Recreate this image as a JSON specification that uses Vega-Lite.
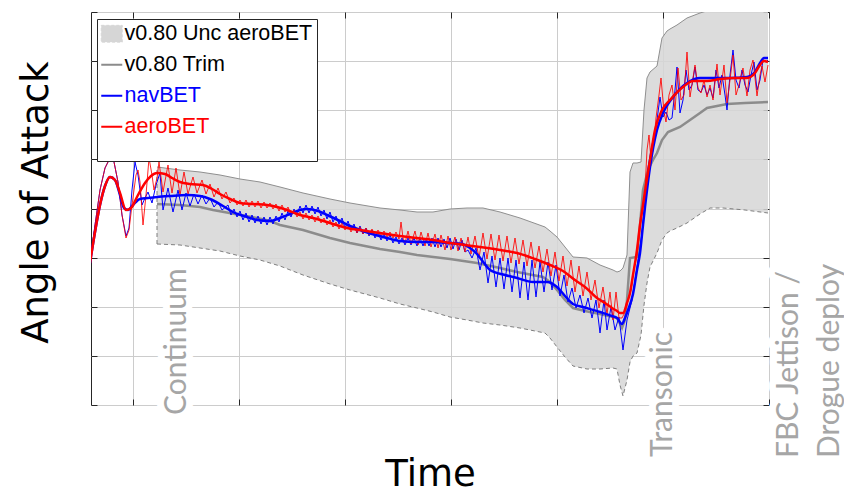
{
"$schema":"https://vega.github.io/schema/vega-lite/v6.json",
"width":678,"height":393,
"autosize":{"type":"none"},
"padding":{"left":91,"top":12,"right":75,"bottom":89},
"background":"white",
"config":{
"view":{"stroke":"#262626","strokeWidth":1},
"axis":{"domain":false,"labels":false,"tickSize":-6,"tickColor":"#262626","tickWidth":1,"gridColor":"#cccccc","gridWidth":1,"titleFont":"DejaVu Sans","titleFontSize":37,"titleFontWeight":"normal","titleColor":"#000000"},
"legend":{"orient":"none","legendX":6,"legendY":7,"fillColor":"white","strokeColor":"#262626","padding":4,"rowPadding":8,"labelFont":"Liberation Sans","labelFontSize":21.5,"labelOffset":2,"labelLimit":400,"symbolSize":441,"symbolType":"stroke","titleFontSize":14,"titlePadding":6}
},
"datasets":{
"band":[{"t":157,"hi":238,"lo":161},{"t":180,"hi":235,"lo":160},{"t":200,"hi":233,"lo":157},{"t":220,"hi":230,"lo":154},{"t":240,"hi":226,"lo":149},{"t":260,"hi":223,"lo":145},{"t":280,"hi":218,"lo":139},{"t":303,"hi":212,"lo":130},{"t":330,"hi":206,"lo":121},{"t":350,"hi":202,"lo":115},{"t":380,"hi":197,"lo":107},{"t":400,"hi":195,"lo":101},{"t":417,"hi":193,"lo":97},{"t":433,"hi":193,"lo":93},{"t":450,"hi":196,"lo":88},{"t":467,"hi":197,"lo":85},{"t":483,"hi":197,"lo":82},{"t":500,"hi":193,"lo":80},{"t":520,"hi":187,"lo":77},{"t":545,"hi":178,"lo":72},{"t":550,"hi":174,"lo":67},{"t":557,"hi":168,"lo":58},{"t":565,"hi":158,"lo":48},{"t":573,"hi":148,"lo":39},{"t":587,"hi":147,"lo":36},{"t":600,"hi":140,"lo":36},{"t":613,"hi":135,"lo":37},{"t":617,"hi":133,"lo":36},{"t":620,"hi":134,"lo":20},{"t":623,"hi":137,"lo":9},{"t":627,"hi":150,"lo":25},{"t":630,"hi":233,"lo":43},{"t":633,"hi":242,"lo":49},{"t":637,"hi":242,"lo":52},{"t":641,"hi":243,"lo":70},{"t":644,"hi":295,"lo":100},{"t":647,"hi":327,"lo":122},{"t":650,"hi":333,"lo":138},{"t":657,"hi":339,"lo":152},{"t":662,"hi":367,"lo":165},{"t":667,"hi":374,"lo":172},{"t":670,"hi":376,"lo":174},{"t":677,"hi":380,"lo":177},{"t":687,"hi":387,"lo":182},{"t":700,"hi":392,"lo":191},{"t":710,"hi":395,"lo":197},{"t":723,"hi":397,"lo":197},{"t":745,"hi":399,"lo":195},{"t":768,"hi":400,"lo":192}],
"trim":[{"t":157,"a":201},{"t":180,"a":200},{"t":200,"a":198},{"t":213,"a":195},{"t":235,"a":191},{"t":257,"a":187},{"t":270,"a":184},{"t":280,"a":180},{"t":303,"a":175},{"t":330,"a":167},{"t":350,"a":162},{"t":380,"a":156},{"t":400,"a":153},{"t":417,"a":150},{"t":450,"a":146},{"t":477,"a":142},{"t":500,"a":137},{"t":517,"a":133},{"t":543,"a":128},{"t":550,"a":123},{"t":557,"a":115},{"t":565,"a":105},{"t":573,"a":97},{"t":585,"a":94},{"t":600,"a":91},{"t":617,"a":87},{"t":622,"a":77},{"t":625,"a":85},{"t":627,"a":105},{"t":630,"a":147},{"t":637,"a":148},{"t":640,"a":180},{"t":643,"a":215},{"t":648,"a":235},{"t":653,"a":245},{"t":657,"a":252},{"t":662,"a":265},{"t":668,"a":273},{"t":680,"a":278},{"t":690,"a":285},{"t":700,"a":292},{"t":707,"a":297},{"t":717,"a":299},{"t":727,"a":301},{"t":745,"a":302},{"t":768,"a":303}],
"redThick":[{"t":90,"a":142},{"t":95,"a":173},{"t":100,"a":200},{"t":105,"a":219},{"t":110,"a":228},{"t":115,"a":225},{"t":120,"a":212},{"t":126,"a":195},{"t":131,"a":197},{"t":138,"a":210},{"t":145,"a":222},{"t":151,"a":229},{"t":157,"a":232},{"t":165,"a":231},{"t":172,"a":227},{"t":180,"a":223},{"t":190,"a":221},{"t":203,"a":220},{"t":212,"a":216},{"t":220,"a":211},{"t":230,"a":206},{"t":240,"a":202},{"t":253,"a":201},{"t":267,"a":200},{"t":277,"a":198},{"t":287,"a":195},{"t":300,"a":190},{"t":313,"a":187},{"t":330,"a":182},{"t":347,"a":177},{"t":360,"a":175},{"t":380,"a":172},{"t":400,"a":169},{"t":417,"a":167},{"t":433,"a":165},{"t":450,"a":162},{"t":465,"a":160},{"t":480,"a":158},{"t":500,"a":155},{"t":517,"a":152},{"t":535,"a":146},{"t":550,"a":140},{"t":563,"a":134},{"t":575,"a":125},{"t":585,"a":118},{"t":597,"a":107},{"t":605,"a":102},{"t":612,"a":97},{"t":617,"a":94},{"t":620,"a":92},{"t":623,"a":92},{"t":627,"a":102},{"t":630,"a":112},{"t":633,"a":130},{"t":637,"a":155},{"t":640,"a":180},{"t":643,"a":200},{"t":646,"a":220},{"t":650,"a":245},{"t":655,"a":275},{"t":662,"a":295},{"t":670,"a":305},{"t":683,"a":318},{"t":693,"a":324},{"t":707,"a":324},{"t":720,"a":326},{"t":735,"a":327},{"t":747,"a":327},{"t":755,"a":332},{"t":760,"a":340},{"t":764,"a":344},{"t":768,"a":343}],
"blueThick":[{"t":90,"a":142},{"t":95,"a":173},{"t":100,"a":200},{"t":105,"a":219},{"t":110,"a":228},{"t":115,"a":225},{"t":120,"a":210},{"t":124,"a":197},{"t":128,"a":195},{"t":133,"a":200},{"t":140,"a":206},{"t":148,"a":207},{"t":157,"a":208},{"t":170,"a":209},{"t":187,"a":210},{"t":200,"a":209},{"t":210,"a":206},{"t":223,"a":199},{"t":233,"a":193},{"t":247,"a":188},{"t":257,"a":185},{"t":270,"a":184},{"t":280,"a":187},{"t":290,"a":191},{"t":300,"a":195},{"t":307,"a":196},{"t":318,"a":194},{"t":327,"a":190},{"t":340,"a":184},{"t":350,"a":179},{"t":360,"a":175},{"t":372,"a":171},{"t":383,"a":168},{"t":400,"a":164},{"t":417,"a":163},{"t":433,"a":163},{"t":450,"a":162},{"t":462,"a":161},{"t":470,"a":157},{"t":477,"a":151},{"t":484,"a":142},{"t":490,"a":135},{"t":505,"a":130},{"t":517,"a":127},{"t":533,"a":123},{"t":547,"a":123},{"t":557,"a":118},{"t":565,"a":109},{"t":573,"a":101},{"t":583,"a":98},{"t":600,"a":93},{"t":612,"a":89},{"t":617,"a":87},{"t":622,"a":81},{"t":625,"a":87},{"t":628,"a":95},{"t":633,"a":111},{"t":637,"a":135},{"t":640,"a":152},{"t":643,"a":180},{"t":645,"a":198},{"t":650,"a":238},{"t":657,"a":275},{"t":663,"a":292},{"t":673,"a":308},{"t":687,"a":322},{"t":700,"a":327},{"t":713,"a":327},{"t":730,"a":327},{"t":747,"a":328},{"t":755,"a":333},{"t":760,"a":342},{"t":764,"a":347},{"t":768,"a":347}],
"redThin":[{"t":90,"a":142},{"t":95,"a":180},{"t":100,"a":215},{"t":105,"a":237},{"t":110,"a":247},{"t":114,"a":243},{"t":118,"a":223},{"t":122,"a":190},{"t":126,"a":167},{"t":129,"a":175},{"t":132,"a":200},{"t":136,"a":230},{"t":138,"a":235},{"t":140,"a":223},{"t":143,"a":180},{"t":146,"a":210},{"t":149,"a":247},{"t":152,"a":230},{"t":154,"a":215},{"t":157,"a":227},{"t":159,"a":243},{"t":163,"a":213},{"t":168,"a":240},{"t":172,"a":212},{"t":176,"a":237},{"t":180,"a":210},{"t":184,"a":233},{"t":188,"a":211},{"t":193,"a":228},{"t":197,"a":212},{"t":202,"a":225},{"t":206,"a":211},{"t":210,"a":221},{"t":214,"a":208},{"t":218,"a":217},{"t":222,"a":206},{"t":226,"a":213},{"t":230,"a":202},{"t":234,"a":207},{"t":237,"a":200},{"t":240,"a":205},{"t":243,"a":199},{"t":246,"a":205},{"t":249,"a":198},{"t":252,"a":204},{"t":255,"a":198},{"t":258,"a":204},{"t":261,"a":197},{"t":264,"a":203},{"t":267,"a":197},{"t":270,"a":202},{"t":273,"a":196},{"t":276,"a":201},{"t":279,"a":194},{"t":282,"a":200},{"t":285,"a":193},{"t":288,"a":198},{"t":291,"a":190},{"t":294,"a":195},{"t":297,"a":188},{"t":300,"a":193},{"t":303,"a":186},{"t":306,"a":192},{"t":309,"a":185},{"t":312,"a":190},{"t":315,"a":183},{"t":318,"a":189},{"t":321,"a":182},{"t":324,"a":187},{"t":327,"a":180},{"t":330,"a":185},{"t":333,"a":178},{"t":336,"a":183},{"t":339,"a":176},{"t":342,"a":182},{"t":345,"a":175},{"t":348,"a":180},{"t":351,"a":173},{"t":354,"a":179},{"t":357,"a":172},{"t":360,"a":178},{"t":363,"a":171},{"t":366,"a":177},{"t":369,"a":170},{"t":372,"a":176},{"t":375,"a":169},{"t":378,"a":175},{"t":381,"a":169},{"t":384,"a":174},{"t":387,"a":168},{"t":390,"a":173},{"t":393,"a":167},{"t":396,"a":173},{"t":399,"a":166},{"t":401,"a":183},{"t":403,"a":167},{"t":405,"a":162},{"t":408,"a":174},{"t":411,"a":161},{"t":415,"a":174},{"t":418,"a":160},{"t":421,"a":173},{"t":425,"a":159},{"t":428,"a":172},{"t":431,"a":158},{"t":435,"a":171},{"t":438,"a":157},{"t":441,"a":170},{"t":445,"a":155},{"t":448,"a":169},{"t":451,"a":155},{"t":455,"a":168},{"t":458,"a":154},{"t":461,"a":167},{"t":465,"a":153},{"t":468,"a":168},{"t":471,"a":151},{"t":475,"a":169},{"t":479,"a":147},{"t":483,"a":172},{"t":487,"a":146},{"t":491,"a":171},{"t":495,"a":145},{"t":499,"a":170},{"t":503,"a":144},{"t":507,"a":169},{"t":511,"a":142},{"t":515,"a":167},{"t":519,"a":141},{"t":523,"a":165},{"t":527,"a":139},{"t":531,"a":163},{"t":535,"a":137},{"t":539,"a":159},{"t":543,"a":133},{"t":547,"a":156},{"t":551,"a":129},{"t":555,"a":153},{"t":559,"a":124},{"t":563,"a":149},{"t":567,"a":119},{"t":571,"a":145},{"t":575,"a":113},{"t":579,"a":139},{"t":583,"a":109},{"t":587,"a":133},{"t":591,"a":105},{"t":595,"a":125},{"t":599,"a":97},{"t":603,"a":118},{"t":607,"a":91},{"t":610,"a":113},{"t":613,"a":85},{"t":616,"a":113},{"t":619,"a":87},{"t":622,"a":87},{"t":625,"a":93},{"t":628,"a":105},{"t":631,"a":115},{"t":634,"a":137},{"t":637,"a":150},{"t":640,"a":177},{"t":643,"a":200},{"t":645,"a":215},{"t":647,"a":255},{"t":649,"a":270},{"t":651,"a":245},{"t":653,"a":255},{"t":656,"a":287},{"t":659,"a":310},{"t":661,"a":327},{"t":664,"a":293},{"t":666,"a":283},{"t":669,"a":310},{"t":672,"a":320},{"t":675,"a":295},{"t":678,"a":337},{"t":681,"a":305},{"t":684,"a":310},{"t":687,"a":353},{"t":690,"a":308},{"t":693,"a":327},{"t":695,"a":340},{"t":698,"a":317},{"t":701,"a":312},{"t":704,"a":325},{"t":707,"a":308},{"t":710,"a":320},{"t":713,"a":305},{"t":717,"a":341},{"t":720,"a":310},{"t":724,"a":340},{"t":727,"a":302},{"t":730,"a":325},{"t":733,"a":350},{"t":736,"a":310},{"t":739,"a":320},{"t":743,"a":337},{"t":747,"a":309},{"t":750,"a":335},{"t":753,"a":345},{"t":757,"a":309},{"t":760,"a":330},{"t":762,"a":339},{"t":765,"a":323},{"t":768,"a":340}],
"blueThin":[{"t":90,"a":142},{"t":95,"a":180},{"t":100,"a":215},{"t":105,"a":237},{"t":110,"a":247},{"t":114,"a":243},{"t":118,"a":223},{"t":122,"a":190},{"t":126,"a":169},{"t":129,"a":177},{"t":132,"a":215},{"t":135,"a":243},{"t":138,"a":230},{"t":142,"a":200},{"t":145,"a":207},{"t":148,"a":213},{"t":152,"a":202},{"t":156,"a":220},{"t":160,"a":232},{"t":163,"a":195},{"t":168,"a":217},{"t":173,"a":193},{"t":178,"a":215},{"t":182,"a":195},{"t":186,"a":212},{"t":190,"a":199},{"t":194,"a":211},{"t":198,"a":201},{"t":202,"a":210},{"t":206,"a":201},{"t":210,"a":207},{"t":214,"a":198},{"t":218,"a":203},{"t":222,"a":195},{"t":228,"a":200},{"t":231,"a":190},{"t":234,"a":196},{"t":237,"a":188},{"t":240,"a":194},{"t":243,"a":185},{"t":246,"a":192},{"t":249,"a":183},{"t":252,"a":190},{"t":255,"a":182},{"t":258,"a":189},{"t":261,"a":181},{"t":264,"a":188},{"t":267,"a":180},{"t":270,"a":188},{"t":273,"a":181},{"t":276,"a":189},{"t":279,"a":183},{"t":282,"a":192},{"t":285,"a":185},{"t":288,"a":194},{"t":291,"a":188},{"t":294,"a":196},{"t":297,"a":190},{"t":300,"a":199},{"t":303,"a":192},{"t":306,"a":200},{"t":309,"a":192},{"t":312,"a":199},{"t":315,"a":191},{"t":318,"a":198},{"t":321,"a":189},{"t":324,"a":195},{"t":327,"a":186},{"t":330,"a":193},{"t":333,"a":183},{"t":336,"a":189},{"t":339,"a":181},{"t":342,"a":187},{"t":345,"a":177},{"t":348,"a":184},{"t":351,"a":175},{"t":354,"a":181},{"t":357,"a":172},{"t":360,"a":179},{"t":363,"a":171},{"t":366,"a":177},{"t":369,"a":169},{"t":372,"a":175},{"t":375,"a":167},{"t":378,"a":173},{"t":381,"a":165},{"t":384,"a":171},{"t":387,"a":164},{"t":390,"a":170},{"t":393,"a":162},{"t":396,"a":168},{"t":399,"a":161},{"t":402,"a":167},{"t":405,"a":160},{"t":408,"a":167},{"t":411,"a":160},{"t":414,"a":167},{"t":417,"a":159},{"t":420,"a":167},{"t":423,"a":159},{"t":426,"a":167},{"t":429,"a":159},{"t":432,"a":167},{"t":435,"a":158},{"t":438,"a":167},{"t":441,"a":158},{"t":444,"a":166},{"t":447,"a":157},{"t":450,"a":167},{"t":453,"a":156},{"t":456,"a":166},{"t":459,"a":155},{"t":462,"a":165},{"t":465,"a":153},{"t":468,"a":155},{"t":472,"a":147},{"t":476,"a":157},{"t":480,"a":135},{"t":484,"a":153},{"t":488,"a":122},{"t":492,"a":149},{"t":496,"a":118},{"t":500,"a":147},{"t":504,"a":116},{"t":508,"a":147},{"t":512,"a":113},{"t":516,"a":145},{"t":520,"a":107},{"t":524,"a":143},{"t":528,"a":105},{"t":532,"a":145},{"t":536,"a":108},{"t":540,"a":143},{"t":544,"a":113},{"t":548,"a":143},{"t":552,"a":115},{"t":556,"a":140},{"t":560,"a":109},{"t":564,"a":130},{"t":568,"a":103},{"t":572,"a":117},{"t":576,"a":97},{"t":580,"a":110},{"t":584,"a":92},{"t":588,"a":107},{"t":592,"a":87},{"t":596,"a":105},{"t":600,"a":72},{"t":604,"a":105},{"t":607,"a":75},{"t":611,"a":98},{"t":615,"a":75},{"t":619,"a":88},{"t":623,"a":55},{"t":627,"a":85},{"t":632,"a":105},{"t":637,"a":138},{"t":642,"a":172},{"t":645,"a":205},{"t":648,"a":238},{"t":651,"a":255},{"t":653,"a":265},{"t":657,"a":285},{"t":660,"a":308},{"t":663,"a":288},{"t":666,"a":293},{"t":669,"a":285},{"t":672,"a":287},{"t":675,"a":315},{"t":677,"a":338},{"t":680,"a":292},{"t":683,"a":305},{"t":686,"a":335},{"t":689,"a":315},{"t":692,"a":320},{"t":695,"a":338},{"t":698,"a":315},{"t":701,"a":313},{"t":704,"a":320},{"t":707,"a":310},{"t":710,"a":317},{"t":713,"a":307},{"t":716,"a":335},{"t":719,"a":317},{"t":722,"a":330},{"t":725,"a":310},{"t":727,"a":295},{"t":730,"a":330},{"t":733,"a":355},{"t":736,"a":325},{"t":739,"a":317},{"t":742,"a":335},{"t":745,"a":320},{"t":748,"a":313},{"t":751,"a":330},{"t":754,"a":343},{"t":757,"a":315},{"t":760,"a":325},{"t":763,"a":345},{"t":766,"a":343},{"t":768,"a":345}],
"notes":[{"t":177,"a":-10,"label":"Continuum"},{"t":663,"a":-52,"label":"Transonic"},{"t":789,"a":-53,"label":"FBC Jettison /\nDrogue deploy"}]
},
"resolve":{"axis":{"x":"independent","y":"independent"}},
"layer":[
{"data":{"name":"band"},
 "mark":{"type":"area","clip":true,"opacity":0.85},
 "encoding":{
  "x":{"field":"t","type":"quantitative","scale":{"domain":[91,769],"nice":false,"zero":false},
       "axis":{"orient":"bottom","values":[133,239,345,451,557,663,769],"grid":true,"title":"Time","titlePadding":51}},
  "y":{"field":"hi","type":"quantitative","scale":{"domain":[0,393],"nice":false,"zero":false},
       "axis":{"orient":"left","values":[0,49.125,98.25,147.375,196.5,245.625,294.75,343.875,393],"grid":true,"title":"Angle of Attack","titlePadding":35,"titleY":190}},
  "y2":{"field":"lo"},
  "color":{"datum":"v0.80 Unc aeroBET","type":"nominal",
   "scale":{"domain":["v0.80 Unc aeroBET","v0.80 Trim","navBET","aeroBET"],"range":["#d6d6d6","#8c8c8c","#0000ff","#ff0000"]},
   "legend":{"title":" ","titleOrient":"bottom",
     "encode":{
      "symbols":{"update":{
        "shape":{"signal":"datum.value === 'v0.80 Unc aeroBET' ? 'M-1,-0.8H1V0.8H-1Z' : 'stroke'"},
        "fill":{"signal":"datum.value === 'v0.80 Unc aeroBET' ? '#d9d9d9' : 'transparent'"},
        "stroke":{"signal":"datum.value === 'v0.80 Unc aeroBET' ? '#9a9a9a' : datum.value === 'v0.80 Trim' ? '#8c8c8c' : datum.value === 'navBET' ? '#0000ff' : '#ff0000'"},
        "strokeDash":{"signal":"datum.value === 'v0.80 Unc aeroBET' ? [3,2] : [1,0]"},
        "strokeWidth":{"signal":"datum.value === 'v0.80 Unc aeroBET' ? 1 : 2"},
        "opacity":{"value":1}}},
      "labels":{"update":{"fill":{"signal":"datum.value === 'navBET' ? '#0000ff' : datum.value === 'aeroBET' ? '#ff0000' : '#000000'"}}}
     }}}
 }},
{"data":{"name":"band"},
 "mark":{"type":"line","clip":true,"color":"#8f8f8f","strokeWidth":1},
 "encoding":{
  "x":{"field":"t","type":"quantitative","scale":{"domain":[91,769],"nice":false,"zero":false},
       "axis":{"orient":"top","values":[133,239,345,451,557,663,769],"grid":false,"title":null}},
  "y":{"field":"hi","type":"quantitative","scale":{"domain":[0,393],"nice":false,"zero":false},
       "axis":{"orient":"right","values":[0,49.125,98.25,147.375,196.5,245.625,294.75,343.875,393],"grid":false,"title":null}}
 }},
{"data":{"name":"band"},
 "mark":{"type":"line","clip":true,"color":"#7f7f7f","strokeWidth":1,"strokeDash":[4,3]},
 "encoding":{
  "x":{"field":"t","type":"quantitative","scale":{"domain":[91,769],"nice":false,"zero":false},"axis":null},
  "y":{"field":"lo","type":"quantitative","scale":{"domain":[0,393],"nice":false,"zero":false},"axis":null}
 }},
{"data":{"name":"band"},
 "transform":[{"filter":"datum.t === 157"}],
 "mark":{"type":"rule","clip":true,"color":"#7f7f7f","strokeWidth":1,"strokeDash":[4,3]},
 "encoding":{
  "x":{"field":"t","type":"quantitative","scale":{"domain":[91,769],"nice":false,"zero":false},"axis":null},
  "y":{"field":"lo","type":"quantitative","scale":{"domain":[0,393],"nice":false,"zero":false},"axis":null},
  "y2":{"field":"hi"}
 }},
{"data":{"name":"trim"},
 "mark":{"type":"line","clip":true,"strokeWidth":2.5},
 "encoding":{
  "x":{"field":"t","type":"quantitative","scale":{"domain":[91,769],"nice":false,"zero":false},"axis":null},
  "y":{"field":"a","type":"quantitative","scale":{"domain":[0,393],"nice":false,"zero":false},"axis":null},
  "color":{"datum":"v0.80 Trim","type":"nominal","scale":{"domain":["v0.80 Unc aeroBET","v0.80 Trim","navBET","aeroBET"],"range":["#d6d6d6","#8c8c8c","#0000ff","#ff0000"]},
   "legend":{"title":" ","titleOrient":"bottom",
     "encode":{
      "symbols":{"update":{
        "shape":{"signal":"datum.value === 'v0.80 Unc aeroBET' ? 'M-1,-0.8H1V0.8H-1Z' : 'stroke'"},
        "fill":{"signal":"datum.value === 'v0.80 Unc aeroBET' ? '#d9d9d9' : 'transparent'"},
        "stroke":{"signal":"datum.value === 'v0.80 Unc aeroBET' ? '#9a9a9a' : datum.value === 'v0.80 Trim' ? '#8c8c8c' : datum.value === 'navBET' ? '#0000ff' : '#ff0000'"},
        "strokeDash":{"signal":"datum.value === 'v0.80 Unc aeroBET' ? [3,2] : [1,0]"},
        "strokeWidth":{"signal":"datum.value === 'v0.80 Unc aeroBET' ? 1 : 2"},
        "opacity":{"value":1}}},
      "labels":{"update":{"fill":{"signal":"datum.value === 'navBET' ? '#0000ff' : datum.value === 'aeroBET' ? '#ff0000' : '#000000'"}}}
     }}}
 }},
{"data":{"name":"blueThin"},
 "mark":{"type":"line","clip":true,"strokeWidth":1},
 "encoding":{
  "x":{"field":"t","type":"quantitative","scale":{"domain":[91,769],"nice":false,"zero":false},"axis":null},
  "y":{"field":"a","type":"quantitative","scale":{"domain":[0,393],"nice":false,"zero":false},"axis":null},
  "color":{"datum":"navBET","type":"nominal","scale":{"domain":["v0.80 Unc aeroBET","v0.80 Trim","navBET","aeroBET"],"range":["#d6d6d6","#8c8c8c","#0000ff","#ff0000"]},
   "legend":{"title":" ","titleOrient":"bottom",
     "encode":{
      "symbols":{"update":{
        "shape":{"signal":"datum.value === 'v0.80 Unc aeroBET' ? 'M-1,-0.8H1V0.8H-1Z' : 'stroke'"},
        "fill":{"signal":"datum.value === 'v0.80 Unc aeroBET' ? '#d9d9d9' : 'transparent'"},
        "stroke":{"signal":"datum.value === 'v0.80 Unc aeroBET' ? '#9a9a9a' : datum.value === 'v0.80 Trim' ? '#8c8c8c' : datum.value === 'navBET' ? '#0000ff' : '#ff0000'"},
        "strokeDash":{"signal":"datum.value === 'v0.80 Unc aeroBET' ? [3,2] : [1,0]"},
        "strokeWidth":{"signal":"datum.value === 'v0.80 Unc aeroBET' ? 1 : 2"},
        "opacity":{"value":1}}},
      "labels":{"update":{"fill":{"signal":"datum.value === 'navBET' ? '#0000ff' : datum.value === 'aeroBET' ? '#ff0000' : '#000000'"}}}
     }}}
 }},
{"data":{"name":"redThin"},
 "mark":{"type":"line","clip":true,"strokeWidth":1,"opacity":0.85},
 "encoding":{
  "x":{"field":"t","type":"quantitative","scale":{"domain":[91,769],"nice":false,"zero":false},"axis":null},
  "y":{"field":"a","type":"quantitative","scale":{"domain":[0,393],"nice":false,"zero":false},"axis":null},
  "color":{"datum":"aeroBET","type":"nominal","scale":{"domain":["v0.80 Unc aeroBET","v0.80 Trim","navBET","aeroBET"],"range":["#d6d6d6","#8c8c8c","#0000ff","#ff0000"]},
   "legend":{"title":" ","titleOrient":"bottom",
     "encode":{
      "symbols":{"update":{
        "shape":{"signal":"datum.value === 'v0.80 Unc aeroBET' ? 'M-1,-0.8H1V0.8H-1Z' : 'stroke'"},
        "fill":{"signal":"datum.value === 'v0.80 Unc aeroBET' ? '#d9d9d9' : 'transparent'"},
        "stroke":{"signal":"datum.value === 'v0.80 Unc aeroBET' ? '#9a9a9a' : datum.value === 'v0.80 Trim' ? '#8c8c8c' : datum.value === 'navBET' ? '#0000ff' : '#ff0000'"},
        "strokeDash":{"signal":"datum.value === 'v0.80 Unc aeroBET' ? [3,2] : [1,0]"},
        "strokeWidth":{"signal":"datum.value === 'v0.80 Unc aeroBET' ? 1 : 2"},
        "opacity":{"value":1}}},
      "labels":{"update":{"fill":{"signal":"datum.value === 'navBET' ? '#0000ff' : datum.value === 'aeroBET' ? '#ff0000' : '#000000'"}}}
     }}}
 }},
{"data":{"name":"blueThick"},
 "mark":{"type":"line","clip":true,"strokeWidth":2.5,"interpolate":"monotone"},
 "encoding":{
  "x":{"field":"t","type":"quantitative","scale":{"domain":[91,769],"nice":false,"zero":false},"axis":null},
  "y":{"field":"a","type":"quantitative","scale":{"domain":[0,393],"nice":false,"zero":false},"axis":null},
  "color":{"datum":"navBET","type":"nominal","scale":{"domain":["v0.80 Unc aeroBET","v0.80 Trim","navBET","aeroBET"],"range":["#d6d6d6","#8c8c8c","#0000ff","#ff0000"]},
   "legend":{"title":" ","titleOrient":"bottom",
     "encode":{
      "symbols":{"update":{
        "shape":{"signal":"datum.value === 'v0.80 Unc aeroBET' ? 'M-1,-0.8H1V0.8H-1Z' : 'stroke'"},
        "fill":{"signal":"datum.value === 'v0.80 Unc aeroBET' ? '#d9d9d9' : 'transparent'"},
        "stroke":{"signal":"datum.value === 'v0.80 Unc aeroBET' ? '#9a9a9a' : datum.value === 'v0.80 Trim' ? '#8c8c8c' : datum.value === 'navBET' ? '#0000ff' : '#ff0000'"},
        "strokeDash":{"signal":"datum.value === 'v0.80 Unc aeroBET' ? [3,2] : [1,0]"},
        "strokeWidth":{"signal":"datum.value === 'v0.80 Unc aeroBET' ? 1 : 2"},
        "opacity":{"value":1}}},
      "labels":{"update":{"fill":{"signal":"datum.value === 'navBET' ? '#0000ff' : datum.value === 'aeroBET' ? '#ff0000' : '#000000'"}}}
     }}}
 }},
{"data":{"name":"redThick"},
 "mark":{"type":"line","clip":true,"strokeWidth":2.5,"interpolate":"monotone"},
 "encoding":{
  "x":{"field":"t","type":"quantitative","scale":{"domain":[91,769],"nice":false,"zero":false},"axis":null},
  "y":{"field":"a","type":"quantitative","scale":{"domain":[0,393],"nice":false,"zero":false},"axis":null},
  "color":{"datum":"aeroBET","type":"nominal","scale":{"domain":["v0.80 Unc aeroBET","v0.80 Trim","navBET","aeroBET"],"range":["#d6d6d6","#8c8c8c","#0000ff","#ff0000"]},
   "legend":{"title":" ","titleOrient":"bottom",
     "encode":{
      "symbols":{"update":{
        "shape":{"signal":"datum.value === 'v0.80 Unc aeroBET' ? 'M-1,-0.8H1V0.8H-1Z' : 'stroke'"},
        "fill":{"signal":"datum.value === 'v0.80 Unc aeroBET' ? '#d9d9d9' : 'transparent'"},
        "stroke":{"signal":"datum.value === 'v0.80 Unc aeroBET' ? '#9a9a9a' : datum.value === 'v0.80 Trim' ? '#8c8c8c' : datum.value === 'navBET' ? '#0000ff' : '#ff0000'"},
        "strokeDash":{"signal":"datum.value === 'v0.80 Unc aeroBET' ? [3,2] : [1,0]"},
        "strokeWidth":{"signal":"datum.value === 'v0.80 Unc aeroBET' ? 1 : 2"},
        "opacity":{"value":1}}},
      "labels":{"update":{"fill":{"signal":"datum.value === 'navBET' ? '#0000ff' : datum.value === 'aeroBET' ? '#ff0000' : '#000000'"}}}
     }}}
 }},
{"data":{"name":"notes"},
 "mark":{"type":"text","angle":270,"align":"left","baseline":"middle","font":"Lato","fontSize":30,"lineHeight":41,"lineBreak":"\n","fill":"white","stroke":"white","strokeWidth":14,"strokeJoin":"round"},
 "encoding":{
  "x":{"field":"t","type":"quantitative","scale":{"domain":[91,769],"nice":false,"zero":false},"axis":null},
  "y":{"field":"a","type":"quantitative","scale":{"domain":[0,393],"nice":false,"zero":false},"axis":null},
  "text":{"field":"label","type":"nominal"}
 }},
{"data":{"name":"notes"},
 "mark":{"type":"text","angle":270,"align":"left","baseline":"middle","font":"Lato","fontSize":30,"lineHeight":41,"lineBreak":"\n","fill":"#a6a6a6"},
 "encoding":{
  "x":{"field":"t","type":"quantitative","scale":{"domain":[91,769],"nice":false,"zero":false},"axis":null},
  "y":{"field":"a","type":"quantitative","scale":{"domain":[0,393],"nice":false,"zero":false},"axis":null},
  "text":{"field":"label","type":"nominal"}
 }}
]
}
